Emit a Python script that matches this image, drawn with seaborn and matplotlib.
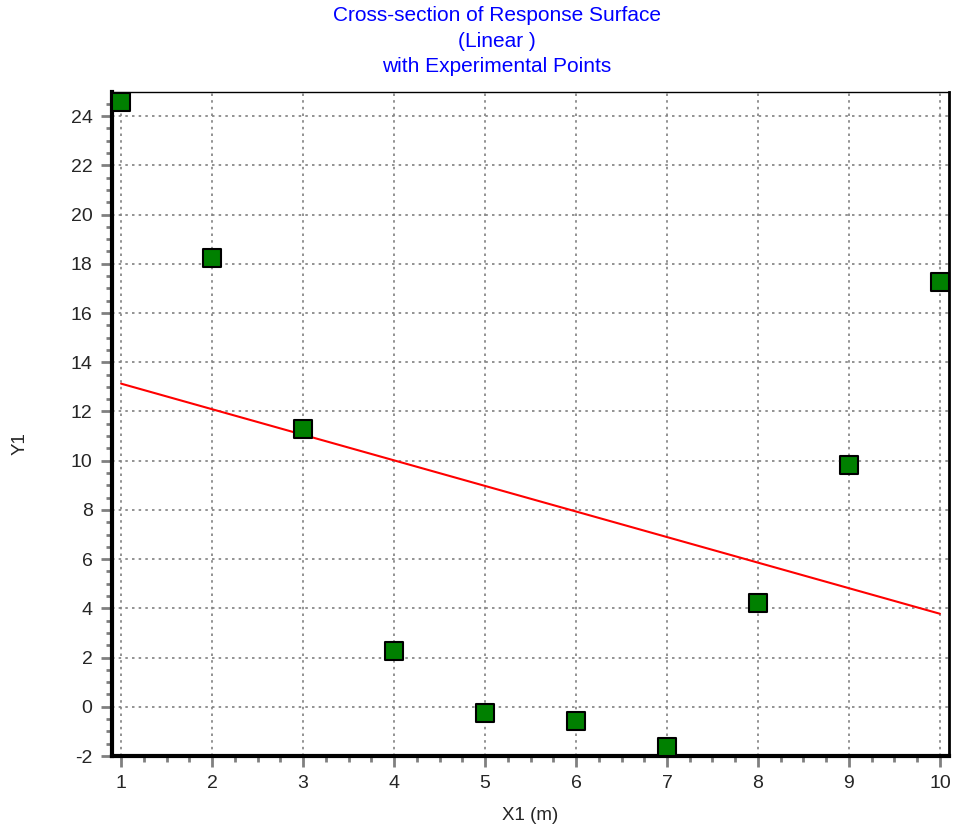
import matplotlib
matplotlib.use("Agg")
import matplotlib.pyplot as plt
import pandas as pd
import seaborn as sns
from matplotlib.ticker import MultipleLocator

# experimental points
x1 = [1, 2, 3, 4, 5, 6, 7, 8, 9, 10]
y1 = [24.57, 18.22, 11.30, 2.27, -0.25, -0.58, -1.63, 4.22, 9.84, 17.24]

# linear response surface cross-section (end points)
fit_x = [1, 10]
fit_y = [13.13, 3.78]

x_ticks = [1, 2, 3, 4, 5, 6, 7, 8, 9, 10]
y_ticks = [-2, 0, 2, 4, 6, 8, 10, 12, 14, 16, 18, 20, 22, 24]

sns.set_style("white")
plt.rcParams['font.family'] = ['Liberation Sans', 'DejaVu Sans']
plt.rcParams['axes.unicode_minus'] = False

points = pd.DataFrame({"X1": x1, "Y1": y1})
line = pd.DataFrame({"X1": fit_x, "Y1": fit_y})

fig = plt.figure(figsize=(9.54, 8.25), dpi=100)
ax = fig.add_axes([0.1174, 0.0836, 0.8774, 0.8049])

sns.lineplot(data=line, x="X1", y="Y1", color="#ff0000", linewidth=1.5, ax=ax, zorder=3)
sns.scatterplot(data=points, x="X1", y="Y1", marker="s", s=160, color="#008000",
                edgecolor="black", linewidth=1.5, ax=ax, zorder=4, clip_on=False)

ax.set_xlim(0.9, 10.1)
ax.set_ylim(-2, 24.98)
ax.set_xticks(x_ticks)
ax.set_yticks(y_ticks)
ax.xaxis.set_minor_locator(MultipleLocator(0.25))
ax.yaxis.set_minor_locator(MultipleLocator(0.5))
ax.grid(True, which="major", color="#808080", linestyle=(0, (1.5, 2.5)), linewidth=1.2)
ax.tick_params(which="major", direction="out", length=8, width=2, color="#808080",
               labelsize=14, pad=6, left=True, bottom=True)
ax.tick_params(which="minor", direction="out", length=4, width=2, color="#808080",
               left=True, bottom=True)

for side in ["left", "bottom"]:
    ax.spines[side].set_linewidth(3)
    ax.spines[side].set_color("black")
ax.spines["top"].set_linewidth(1)
ax.spines["right"].set_linewidth(2)
ax.spines["top"].set_color("black")
ax.spines["right"].set_color("black")

ax.set_xlabel("X1 (m)", fontsize=13.5)
ax.set_ylabel("Y1", fontsize=13.5)
ax.xaxis.set_label_coords(0.5, -0.089)
ax.xaxis.label.set_va("center")
ax.yaxis.set_label_coords(-0.11, 0.471)
ax.yaxis.label.set_va("center")

fig.text(0.521, 0.950, "Cross-section of Response Surface\n(Linear )\nwith Experimental Points",
         color="#0000ff", fontsize=15, linespacing=1.42, ha="center", va="center",
         multialignment="center")

fig.savefig("out.png", dpi=100)
plt.close(fig)
